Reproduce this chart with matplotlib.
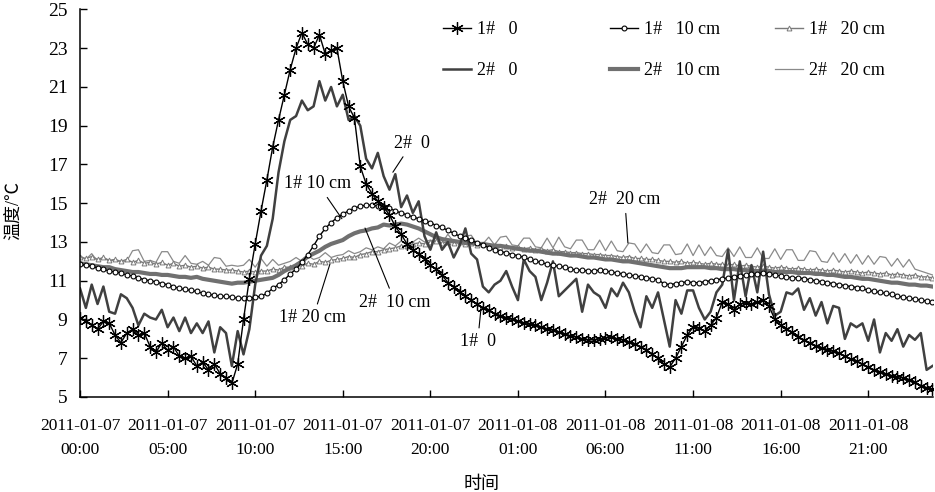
import numpy as np
import matplotlib
matplotlib.use("Agg")
import matplotlib.pyplot as plt

plt.rcParams['font.family'] = ['Liberation Serif', 'Noto Sans CJK SC']

# soil temperature, one reading every 20 min from 2011-01-07 00:00
s1_0 = [9.1, 8.9, 8.7, 8.5, 8.9, 8.8, 8.2, 7.8, 8.3, 8.5, 8.2, 8.3,
        7.6, 7.3, 7.8, 7.4, 7.6, 7.1, 7.0, 7.1, 6.6, 6.8, 6.4, 6.7,
        6.2, 6.0, 5.7, 6.7, 9.0, 11.1, 12.9, 14.6, 16.2, 17.9, 19.3, 20.6,
        21.9, 23.0, 23.8, 23.2, 23.0, 23.7, 22.7, 22.9, 23.0, 21.3, 20.0, 19.4,
        16.9, 16.0, 15.5, 15.1, 14.8, 14.4, 13.8, 13.4, 12.9, 12.6, 12.4, 12.1,
        11.8, 11.6, 11.3, 10.9, 10.7, 10.4, 10.2, 10.0, 9.8, 9.6, 9.5, 9.3,
        9.2, 9.1, 9.0, 8.9, 8.8, 8.75, 8.7, 8.6, 8.5, 8.45, 8.35, 8.25,
        8.15, 8.1, 8.0, 7.95, 7.95, 8.0, 8.05, 8.1, 8.0, 7.95, 7.85, 7.75,
        7.6, 7.45, 7.2, 7.0, 6.7, 6.55, 7.0, 7.6, 8.2, 8.6, 8.55, 8.4,
        8.7, 9.1, 9.9, 9.8, 9.5, 9.8, 9.85, 9.8, 9.9, 10.0, 9.7, 9.0,
        8.7, 8.5, 8.35, 8.1, 7.95, 7.8, 7.65, 7.55, 7.45, 7.35, 7.25, 7.1,
        6.95, 6.85, 6.7, 6.55, 6.4, 6.3, 6.2, 6.1, 6.05, 6.0, 5.9, 5.75,
        5.55, 5.45, 5.4]

s2_0 = [10.6, 9.6, 10.8, 9.8, 10.7, 9.4, 9.3, 10.3, 10.1, 9.6, 8.7, 9.3,
        9.1, 9.0, 9.5, 8.6, 9.1, 8.4, 9.1, 8.3, 8.8, 8.3, 8.9, 7.3,
        8.6, 8.3, 6.6, 8.4, 7.2, 8.5, 10.8, 12.3, 12.8, 14.2, 16.6, 18.2,
        19.3, 19.5, 20.3, 19.8, 20.0, 21.3, 20.3, 21.0, 20.0, 20.6, 19.3, 19.5,
        19.0, 17.3, 16.8, 17.6, 16.4, 15.7, 16.5, 14.8, 15.4, 14.5, 15.1, 13.3,
        12.6, 13.5, 12.6, 13.0, 12.2, 12.8, 13.7, 12.4, 12.1, 10.7, 10.4, 10.8,
        11.0, 11.5, 10.7, 10.0, 12.1, 11.5, 11.2, 10.0, 10.9, 12.0, 10.2, 10.5,
        10.8, 11.1, 9.4, 10.8, 10.4, 10.2, 9.6, 10.6, 10.2, 10.9, 10.4, 9.4,
        8.6, 10.2, 9.6, 10.4, 9.0, 7.6, 10.0, 9.3, 10.5, 10.5, 9.6, 9.0,
        9.4, 10.4, 10.8, 12.6, 10.0, 12.0, 10.2, 11.8, 10.4, 12.5, 10.3, 9.2,
        9.4, 10.4, 10.3, 10.6, 9.5, 10.1, 9.2, 9.9, 8.8, 9.7, 9.6, 8.0,
        8.8, 8.6, 8.8, 7.9, 9.0, 7.3, 8.3, 7.9, 8.5, 7.6, 8.2, 7.95,
        8.3, 6.4, 6.6]

s1_10 = [11.85, 11.8, 11.75, 11.65, 11.6, 11.5, 11.45, 11.4, 11.3, 11.25, 11.15, 11.05,
         11.0, 10.95, 10.85, 10.8, 10.7, 10.6, 10.55, 10.5, 10.45, 10.35, 10.3, 10.25,
         10.2, 10.2, 10.15, 10.1, 10.1, 10.1, 10.15, 10.2, 10.35, 10.6, 10.8, 11.05,
         11.35, 11.6, 11.95, 12.35, 12.8, 13.3, 13.7, 14.0, 14.25, 14.45, 14.6, 14.75,
         14.85, 14.9, 14.9, 14.85, 14.8, 14.75, 14.6, 14.5, 14.4, 14.3, 14.2, 14.1,
         14.0, 13.85, 13.75, 13.6, 13.45, 13.3, 13.2, 13.1, 12.95, 12.85, 12.7, 12.6,
         12.5, 12.45, 12.35, 12.3, 12.2, 12.1, 12.0, 11.95, 11.85, 11.8, 11.75, 11.7,
         11.6, 11.55, 11.55, 11.5, 11.5, 11.55, 11.5, 11.45, 11.4, 11.35, 11.3, 11.25,
         11.2, 11.15, 11.1, 11.05, 10.85, 10.8, 10.85, 10.9, 10.95, 10.9, 10.9, 10.95,
         11.0, 11.05, 11.1, 11.15, 11.2, 11.25, 11.3, 11.35, 11.35, 11.4, 11.35, 11.3,
         11.25, 11.2, 11.15, 11.15, 11.1, 11.05, 11.0, 10.95, 10.9, 10.85, 10.8, 10.75,
         10.7, 10.65, 10.6, 10.5, 10.45, 10.4, 10.35, 10.3, 10.2, 10.15, 10.1, 10.05,
         10.0, 9.95, 9.9]

s2_10 = [11.9, 11.85, 11.8, 11.75, 11.7, 11.7, 11.6, 11.55, 11.5, 11.45, 11.45, 11.4,
         11.35, 11.35, 11.3, 11.3, 11.25, 11.2, 11.2, 11.15, 11.2, 11.1, 11.05, 11.0,
         10.95, 10.9, 10.85, 10.9, 10.9, 10.95, 11.0, 11.05, 11.1, 11.15, 11.3, 11.5,
         11.65, 11.8, 12.0, 12.25, 12.4, 12.55, 12.75, 12.9, 13.0, 13.1, 13.3, 13.45,
         13.55, 13.6, 13.7, 13.75, 13.9, 13.85, 13.9, 13.95, 13.9, 13.8, 13.7, 13.55,
         13.4, 13.25, 13.15, 13.1, 13.05, 13.0, 12.95, 12.95, 12.9, 12.9, 12.85, 12.8,
         12.8, 12.75, 12.7, 12.65, 12.6, 12.55, 12.55, 12.5, 12.45, 12.4, 12.4, 12.35,
         12.3, 12.3, 12.25, 12.2, 12.2, 12.15, 12.1, 12.1, 12.05, 12.0, 12.0, 11.95,
         11.9, 11.85, 11.8, 11.75, 11.7, 11.65, 11.65, 11.65, 11.7, 11.7, 11.7, 11.7,
         11.65, 11.65, 11.6, 11.6, 11.6, 11.55, 11.55, 11.5, 11.5, 11.5, 11.5, 11.45,
         11.45, 11.45, 11.45, 11.4, 11.4, 11.4, 11.35, 11.35, 11.3, 11.3, 11.25, 11.2,
         11.2, 11.15, 11.1, 11.1, 11.05, 11.0, 10.95, 10.9, 10.9, 10.85, 10.8, 10.8,
         10.75, 10.75, 10.7]

s1_20 = [12.2, 12.15, 12.25, 12.1, 12.2, 12.05, 12.1, 12.0, 12.1, 11.95, 12.05, 11.9,
         11.95, 11.85, 11.95, 11.8, 11.9, 11.75, 11.8, 11.7, 11.75, 11.65, 11.7, 11.6,
         11.6, 11.55, 11.55, 11.5, 11.45, 11.5, 11.45, 11.5, 11.5, 11.6, 11.55, 11.7,
         11.7, 11.8, 11.75, 11.9, 11.85, 12.0, 11.95, 12.05, 12.1, 12.15, 12.25, 12.2,
         12.35, 12.4, 12.5, 12.5, 12.6, 12.65, 12.7, 12.8, 12.8, 12.9, 12.95, 12.9,
         13.0, 13.05, 12.95, 13.0, 12.95, 13.0, 12.9, 12.95, 12.85, 12.9, 12.8, 12.85,
         12.75, 12.8, 12.7, 12.75, 12.65, 12.7, 12.6, 12.65, 12.55, 12.6, 12.5, 12.5,
         12.45, 12.45, 12.4, 12.4, 12.35, 12.35, 12.3, 12.3, 12.25, 12.2, 12.25, 12.15,
         12.15, 12.1, 12.1, 12.05, 12.0, 12.0, 11.95, 12.0, 11.9, 11.95, 11.9, 11.85,
         11.9, 11.85, 11.85, 11.8, 11.85, 11.75, 11.8, 11.75, 11.7, 11.75, 11.7, 11.65,
         11.7, 11.65, 11.6, 11.65, 11.6, 11.55, 11.6, 11.55, 11.5, 11.55, 11.5, 11.45,
         11.5, 11.45, 11.4, 11.45, 11.4, 11.35, 11.4, 11.3, 11.35, 11.3, 11.25, 11.3,
         11.2, 11.2, 11.15]

s2_20 = [12.3, 12.1, 12.4, 12.0, 12.2, 12.0, 12.1, 11.95, 12.0, 12.55, 12.6, 12.0,
         12.05, 11.95, 12.5, 12.5, 12.0, 11.9, 12.3, 11.9, 11.85, 12.0, 11.8, 12.2,
         12.15, 11.75, 11.8, 11.75, 11.8, 12.1, 11.7, 12.15, 11.75, 12.1, 11.8, 11.9,
         12.0, 12.2, 12.0, 12.3, 12.1, 12.2, 12.45, 12.2, 12.3, 12.35, 12.55, 12.4,
         12.5, 12.7, 12.6, 12.75, 12.65, 12.95, 12.8, 13.05, 12.85, 13.0, 13.2, 13.0,
         13.1, 13.0, 12.95, 13.4, 13.0, 12.95, 13.3, 13.35, 12.9, 12.9, 13.25, 12.85,
         13.25, 13.3, 12.85, 12.8, 13.2, 13.2, 12.75, 12.7, 13.2, 12.7, 13.25, 12.75,
         12.65, 13.1, 13.1, 12.6, 12.6, 13.1, 12.55, 13.05, 12.55, 12.5, 12.95, 12.9,
         12.45, 12.9, 12.45, 12.4, 12.85, 12.85, 12.35, 12.4, 12.9, 12.3, 12.85, 12.3,
         12.75, 12.3, 12.25, 12.7, 12.25, 12.75, 12.2, 12.2, 12.7, 12.15, 12.15, 12.65,
         12.1, 12.6, 12.6, 12.05, 12.05, 12.55, 12.5, 12.0, 11.95, 12.45, 11.95, 12.4,
         11.9, 12.35, 11.85, 12.3, 11.85, 12.25, 12.2, 11.75, 12.15, 11.7, 12.1, 11.6,
         11.5, 11.4, 11.3]

hours = np.arange(len(s1_0)) / 3.0

tick_hours = [0, 5, 10, 15, 20, 25, 30, 35, 40, 45]
tick_labels = ['2011-01-07\n00:00', '2011-01-07\n05:00', '2011-01-07\n10:00',
               '2011-01-07\n15:00', '2011-01-07\n20:00', '2011-01-08\n01:00',
               '2011-01-08\n06:00', '2011-01-08\n11:00', '2011-01-08\n16:00',
               '2011-01-08\n21:00']

fig = plt.figure(figsize=(9.35, 4.92), dpi=100)
ax = fig.add_axes([0.0856, 0.1931, 0.9123, 0.7876])

l_2_20, = ax.plot(hours, s2_20, color='#8a8a8a', lw=0.9, label='2#   20 cm')
l_1_20, = ax.plot(hours, s1_20, color='#7a7a7a', lw=1.0, marker='^', ms=3.5,
                  mfc='white', mec='#7a7a7a', mew=0.7, label='1#   20 cm')
l_2_10, = ax.plot(hours, s2_10, color='#707070', lw=3.0, label='2#   10 cm')
l_2_0, = ax.plot(hours, s2_0, color='#404040', lw=1.8, label='2#   0')
l_1_10, = ax.plot(hours, s1_10, color='black', lw=1.0, marker='o', ms=3.5,
                  mfc='white', mec='black', mew=0.8, label='1#   10 cm')
l_1_0, = ax.plot(hours, s1_0, color='black', lw=1.0, marker=(6, 2, 0), ms=9,
                 mew=0.9, label='1#   0')

ax.set_xlim(0, 48.7)
ax.set_ylim(5, 25)
ax.set_yticks(np.arange(5, 26, 2))
ax.set_xticks(tick_hours)
ax.set_xticklabels(tick_labels, linespacing=1.7)
ax.tick_params(axis='both', direction='in', length=5, width=1)
ax.tick_params(axis='y', pad=9, labelsize=14)
ax.tick_params(axis='x', pad=15, labelsize=12.5)
for s in ['top', 'right']:
    ax.spines[s].set_visible(False)
for s in ['left', 'bottom']:
    ax.spines[s].set_linewidth(1.1)

ax.set_xlabel('时间', fontsize=13)
ax.xaxis.set_label_coords(0.471, -0.205)
ax.set_ylabel('温度/℃', fontsize=13)
ax.yaxis.set_label_coords(-0.068, 0.48)

# legend: three columns placed separately
cols = [([l_1_0, l_2_0], 443), ([l_1_10, l_2_10], 610), ([l_1_20, l_2_20], 775)]
for handles, xpix in cols:
    leg = fig.legend(handles=handles, loc='upper left',
                     bbox_to_anchor=(xpix / 935, 1 - 21 / 492),
                     frameon=False, fontsize=13, borderpad=0, borderaxespad=0,
                     handlelength=1.55, handletextpad=0.35, labelspacing=1.35,
                     numpoints=1)

# in-plot labels with leader lines
notes = [('2#  0', (17.86, 16.6), (18.95, 18.1)),
         ('1# 10 cm', (14.95, 14.2), (13.58, 16.0)),
         ('2#  20 cm', (31.28, 12.95), (31.1, 15.2)),
         ('1# 20 cm', (14.27, 11.87), (13.3, 9.08)),
         ('2#  10 cm', (16.27, 13.72), (17.98, 9.9)),
         ('1#  0', (22.9, 9.65), (22.7, 7.84))]
for txt, xy, xyt in notes:
    ax.annotate(txt, xy=xy, xytext=xyt, fontsize=13, ha='center', va='center',
                arrowprops=dict(arrowstyle='-', lw=0.8, color='black',
                                shrinkA=2, shrinkB=0))

fig.savefig('out.png', dpi=100)
